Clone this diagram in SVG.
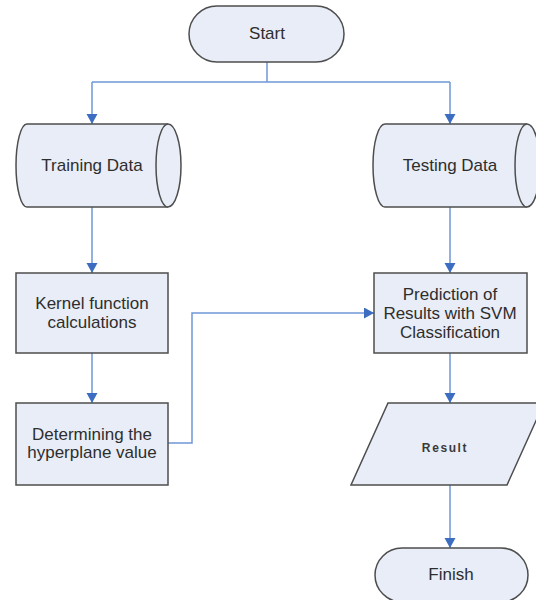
<svg xmlns="http://www.w3.org/2000/svg" width="536" height="600" viewBox="0 0 536 600">
<style>
.shape{fill:#E8EDF7;stroke:#4D4D4D;stroke-width:1.5}
.lbl{font-family:"Liberation Sans",Arial,sans-serif;font-size:17px;fill:#2E2E2E;text-anchor:middle}
.small{font-size:12px;font-weight:bold;letter-spacing:1.6px;fill:#3A3A3A}
.conn{fill:none;stroke:#6F97D6;stroke-width:1.5}
.arr{marker-end:url(#ah)}
</style>
<defs>
<marker id="ah" markerUnits="userSpaceOnUse" markerWidth="12" markerHeight="12" refX="10" refY="5.5" orient="auto">
<path d="M0,0 L10,5.5 L0,11 Z" fill="#3C6DC0"/>
</marker>
</defs>
<rect width="536" height="600" fill="#FFFFFF"/>
<g id="connectors">
<path class="conn" d="M267,62 V82 M92,82 H450"/>
<path class="conn arr" d="M92,82 V124"/>
<path class="conn arr" d="M450,82 V124"/>
<path class="conn arr" d="M92,207 V273"/>
<path class="conn arr" d="M450,207 V273"/>
<path class="conn arr" d="M92,353 V403"/>
<path class="conn arr" d="M168,443 H192 V313 H374"/>
<path class="conn arr" d="M450,353 V403"/>
<path class="conn arr" d="M450,485 V548"/>
</g>
<g id="start">
<rect class="shape" x="189" y="6" width="155" height="56" rx="28" ry="28"/>
<text class="lbl" x="267" y="39">Start</text>
</g>
<g id="training-data">
<path class="shape" d="M27,124 H168 A13,41.5 0 0 1 168,207 H27 A11,41.5 0 0 1 27,124 Z"/>
<path class="shape" fill="none" d="M168,207 A12,41.5 0 0 1 168,124"/>
<text class="lbl" x="92" y="171">Training Data</text>
</g>
<g id="testing-data">
<path class="shape" d="M385,124 H527 A13,41.5 0 0 1 527,207 H385 A12,41.5 0 0 1 385,124 Z"/>
<path class="shape" fill="none" d="M527,207 A12,41.5 0 0 1 527,124"/>
<text class="lbl" x="450" y="171">Testing Data</text>
</g>
<g id="kernel">
<rect class="shape" x="16" y="273" width="152" height="80"/>
<text class="lbl" x="92" y="309">Kernel function</text>
<text class="lbl" x="92" y="328">calculations</text>
</g>
<g id="hyperplane">
<rect class="shape" x="16" y="403" width="152" height="82"/>
<text class="lbl" x="92" y="440">Determining the</text>
<text class="lbl" x="92" y="458">hyperplane value</text>
</g>
<g id="prediction">
<rect class="shape" x="374" y="273" width="153" height="80"/>
<text class="lbl" x="450" y="300">Prediction of</text>
<text class="lbl" x="450" y="319">Results with SVM</text>
<text class="lbl" x="450" y="337.5">Classification</text>
</g>
<g id="result">
<polygon class="shape" points="388,403 544,403 507,485 351,485"/>
<text class="lbl small" x="445" y="451.5">Result</text>
</g>
<g id="finish">
<rect class="shape" x="375" y="548" width="153" height="54" rx="27" ry="27"/>
<text class="lbl" x="451" y="580">Finish</text>
</g>
</svg>
